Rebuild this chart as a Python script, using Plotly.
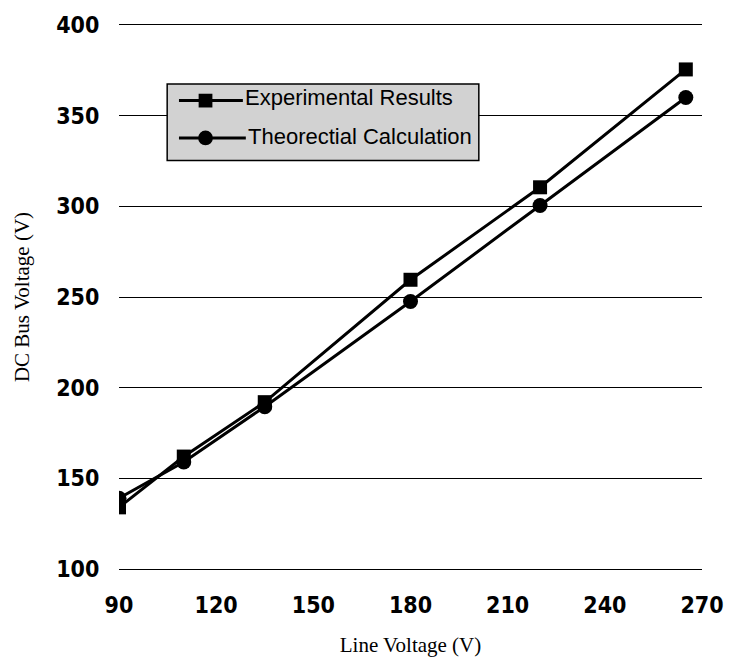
import plotly.graph_objects as go

# Measured DC bus voltage versus line voltage
line_voltage = [90, 110, 135, 180, 220, 265]
experimental = [134, 162, 192, 259.5, 310.5, 375.5]
theoretical = [139, 159, 189.5, 247.5, 300.5, 360]
series_names = ["Experimental Results", "Theorectial Calculation"]

x_ticks = [90, 120, 150, 180, 210, 240, 270]
y_ticks = [100, 150, 200, 250, 300, 350, 400]

W, H = 736, 664
ML, MR, MT, MB = 119, 24, 18, 92
PW, PH = W - ML - MR, H - MT - MB


def px(xp):
    return (xp - ML) / PW


def py(yp):
    return (H - MB - yp) / PH


tick_font = dict(family="DejaVu Sans Condensed", size=23, color="black", weight="bold")
title_font = dict(family="Liberation Serif", size=21, color="black")

fig = go.Figure()
fig.add_trace(go.Scatter(
    x=line_voltage, y=experimental, name=series_names[0],
    mode="lines+markers",
    line=dict(color="black", width=3),
    marker=dict(symbol="square", size=14, color="black"),
))
fig.add_trace(go.Scatter(
    x=line_voltage, y=theoretical, name=series_names[1],
    mode="lines+markers",
    line=dict(color="black", width=3),
    marker=dict(symbol="circle", size=15, color="black"),
))

# Hand-drawn legend box with grey fill
shapes = [dict(type="rect", xref="paper", yref="paper",
               x0=px(168), x1=px(485), y0=py(156), y1=py(78),
               fillcolor="#d2d2d2", line=dict(color="black", width=1.5), layer="above")]
annotations = []
rows = [(95, 92, 245, "square"), (133, 132, 248, "circle")]
for (ly, ty, tx, sym), name in zip(rows, series_names):
    shapes.append(dict(type="line", xref="paper", yref="paper",
                       x0=px(180), x1=px(tx), y0=py(ly), y1=py(ly),
                       line=dict(color="black", width=3), layer="above"))
    r = 7 if sym == "square" else 7.5
    shapes.append(dict(type="rect" if sym == "square" else "circle",
                       xref="paper", yref="paper",
                       x0=px(207 - r), x1=px(207 + r), y0=py(ly + r), y1=py(ly - r),
                       fillcolor="black", line=dict(color="black", width=0), layer="above"))
    annotations.append(dict(xref="paper", yref="paper", x=px(tx), y=py(ty),
                            xanchor="left", yanchor="middle", showarrow=False,
                            text=name,
                            font=dict(family="Liberation Sans", size=22, color="black")))

fig.update_layout(
    width=W, height=H,
    margin=dict(l=ML, r=MR, t=MT, b=MB),
    paper_bgcolor="white", plot_bgcolor="white",
    showlegend=False,
    shapes=shapes, annotations=annotations,
    xaxis=dict(
        range=[90, 270], tickvals=x_ticks, ticktext=[str(v) for v in x_ticks],
        showgrid=False, zeroline=False,
        showline=True, linecolor="black", linewidth=1, mirror=True,
        ticks="outside", ticklen=15, tickcolor="rgba(0,0,0,0)",
        tickfont=tick_font,
        title=dict(text="Line Voltage (V)", standoff=20, font=title_font),
    ),
    yaxis=dict(
        range=[100, 400], tickvals=y_ticks, ticktext=[str(v) for v in y_ticks],
        showgrid=True, gridcolor="black", gridwidth=1,
        zeroline=False, showline=False,
        ticks="outside", ticklen=14, tickcolor="rgba(0,0,0,0)",
        tickfont=tick_font,
        title=dict(text="DC Bus Voltage (V)", standoff=20, font=title_font),
    ),
)

fig.write_html("out.html")
